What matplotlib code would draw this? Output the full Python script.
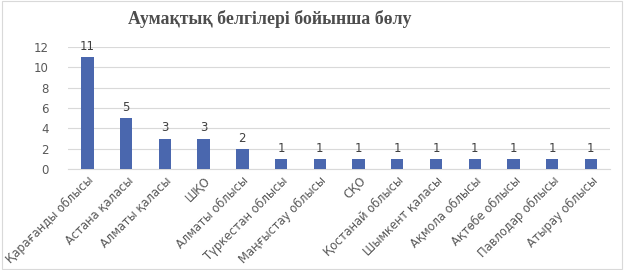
"""Bar chart: distribution by region."""

import matplotlib.pyplot as plt
import numpy as np

regions = [
    "Қарағанды облысы", "Астана қаласы", "Алматы қаласы", "ШҚО",
    "Алматы облысы", "Түркестан облысы", "Маңғыстау облысы", "СҚО",
    "Қостанай облысы", "Шымкент қаласы", "Ақмола облысы", "Ақтөбе облысы",
    "Павлодар облысы", "Атырау облысы",
]
counts = [11, 5, 3, 3, 2, 1, 1, 1, 1, 1, 1, 1, 1, 1]
title = "Аумақтық белгілері бойынша бөлу"


def main() -> None:
    plt.rcParams["font.family"] = "DejaVu Sans"
    text_color = "#595959"

    fig = plt.figure(figsize=(6.24, 2.70), dpi=100)
    ax = fig.add_axes([0.109, 0.374, 0.869, 0.452])

    x = np.arange(len(regions))
    bars = ax.bar(x, counts, width=0.32, color="#4a67ae", zorder=3)
    ax.bar_label(bars, padding=3, fontsize=8.5, color="#404040")

    ax.set_ylim(0, 12)
    ax.set_xlim(-0.5, len(regions) - 0.5)
    ax.set_yticks(range(0, 13, 2))
    ax.grid(axis="y", color="#d9d9d9", linewidth=0.8, zorder=0)
    for s in ["top", "right", "left"]:
        ax.spines[s].set_visible(False)
    ax.spines["bottom"].set_color("#d9d9d9")
    ax.tick_params(axis="both", length=0, colors=text_color, labelsize=8.5)
    ax.tick_params(axis="y", pad=14)
    ax.set_xticks(x)
    ax.set_xticklabels(regions, rotation=45, ha="right", rotation_mode="anchor",
                       fontsize=8.3, color=text_color)

    fig.text(0.433, 0.93, title, ha="center", va="center", fontsize=12.8,
             fontweight="bold", family="Liberation Serif", color="#4d4d4d")

    border = plt.Rectangle((0.003, 0.003), 0.994, 0.994, transform=fig.transFigure,
                           fill=False, edgecolor="#d9d9d9", linewidth=0.8)
    fig.patches.append(border)

    fig.savefig("out.png", dpi=100)


if __name__ == "__main__":
    main()
